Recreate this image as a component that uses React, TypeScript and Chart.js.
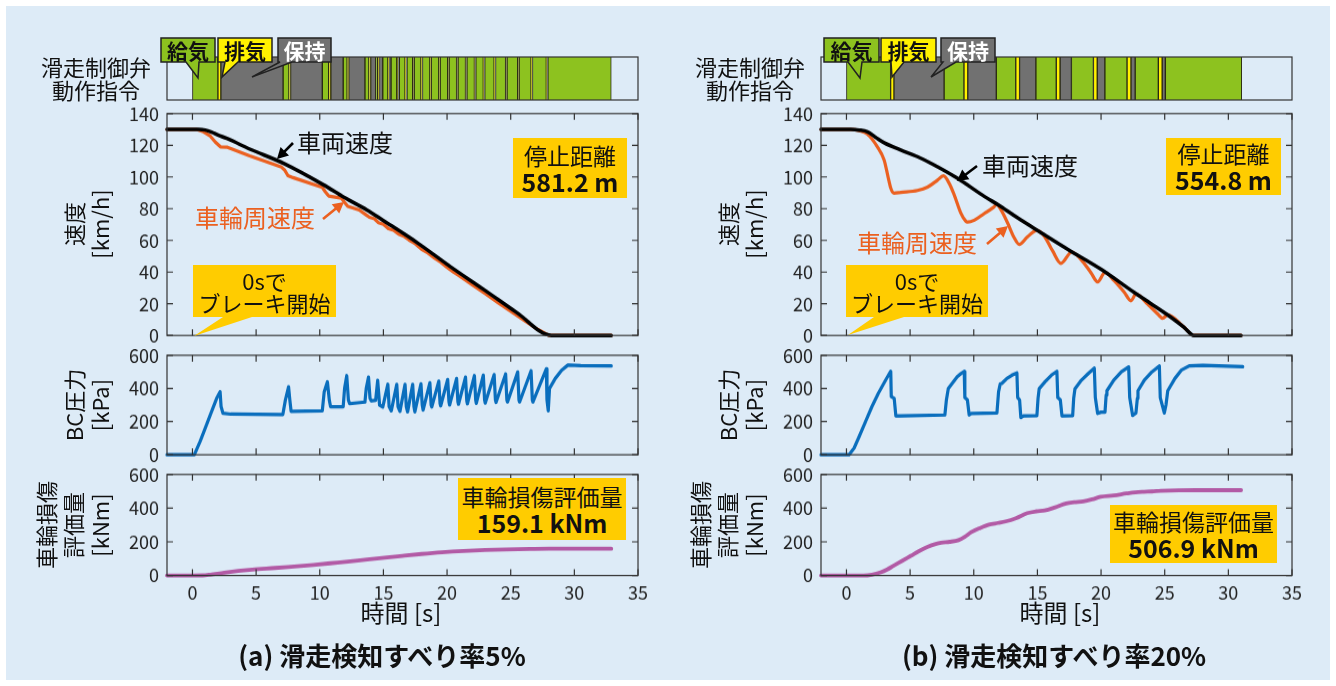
import React, { useEffect, useRef } from 'react';
import { Chart, registerables } from 'chart.js';

Chart.register(...registerables);

const FONT = "'Noto Sans CJK JP', 'Noto Sans', sans-serif";
const BG = '#DDEBF7';
const GREEN = '#8DC21F';
const YELLOW = '#FFF100';
const GRAY = '#717171';
const GOLD = '#FFCC00';
const ORANGE = '#EB6020';
const BLUE = '#0A6EBD';
const PURPLE = '#B25AA5';
const BLACK = '#000000';

// ---------- axes ----------
const X_MIN = -2;
const X_MAX = 35;
const timeTicks = [0, 5, 10, 15, 20, 25, 30, 35];
const speedTicks = [0, 20, 40, 60, 80, 100, 120, 140];
const bcTicks = [0, 200, 400, 600];
const damageTicks = [0, 200, 400, 600];

type Pt = [number, number];
type Seg = [number, number, 'S' | 'E' | 'H'];

// ---------- (a) slip detection 5% ----------
const valveA: Seg[] = [
  [0, 2.0, 'S'], [2.0, 2.23, 'E'], [2.23, 7.12, 'H'],
  [7.12, 7.58, 'S'], [7.58, 7.71, 'E'], [7.71, 10.2, 'H'],
  [10.2, 10.7, 'S'], [10.7, 10.87, 'E'], [10.87, 11.84, 'H'],
  [11.84, 12.15, 'S'], [12.15, 12.28, 'E'], [12.28, 13.55, 'H'],
  [13.55, 13.86, 'S'], [13.86, 14.0, 'E'], [14.0, 14.39, 'H'],
  [14.39, 14.55, 'S'], [14.55, 14.63, 'E'], [14.63, 14.95, 'H'],
  [14.95, 15.35, 'S'], [15.35, 15.41, 'E'], [15.41, 15.6, 'H'],
  [15.6, 16.05, 'S'], [16.05, 16.1, 'E'], [16.1, 16.25, 'H'],
  [16.25, 16.7, 'S'], [16.7, 16.75, 'E'], [16.75, 16.85, 'H'],
  [16.85, 17.3, 'S'], [17.3, 17.35, 'E'], [17.35, 17.42, 'H'],
  [17.42, 17.95, 'S'], [17.95, 18.0, 'E'], [18.0, 18.07, 'H'],
  [18.07, 18.65, 'S'], [18.65, 18.7, 'E'], [18.7, 18.76, 'H'],
  [18.76, 19.35, 'S'], [19.35, 19.4, 'E'], [19.4, 19.46, 'H'],
  [19.46, 20.05, 'S'], [20.05, 20.1, 'E'], [20.1, 20.16, 'H'],
  [20.16, 20.75, 'S'], [20.75, 20.8, 'E'], [20.8, 20.86, 'H'],
  [20.86, 21.45, 'S'], [21.45, 21.5, 'E'], [21.5, 21.56, 'H'],
  [21.56, 22.15, 'S'], [22.15, 22.2, 'E'], [22.2, 22.26, 'H'],
  [22.26, 22.85, 'S'], [22.85, 22.9, 'E'], [22.9, 22.96, 'H'],
  [22.96, 23.7, 'S'], [23.7, 23.75, 'E'], [23.75, 23.81, 'H'],
  [23.81, 24.6, 'S'], [24.6, 24.65, 'E'], [24.65, 24.71, 'H'],
  [24.71, 25.55, 'S'], [25.55, 25.6, 'E'], [25.6, 25.66, 'H'],
  [25.66, 26.6, 'S'], [26.6, 26.65, 'E'], [26.65, 26.71, 'H'],
  [26.71, 27.8, 'S'], [27.8, 27.85, 'E'], [27.85, 27.92, 'H'],
  [27.92, 32.9, 'S'],
];

const vehicleSpeedA: Pt[] = [
  [-2, 130], [0.5, 130], [1.0, 129.6], [1.5, 128.3], [2.0, 126.5], [2.7, 124.3],
  [4.56, 117.4], [7.15, 108.6], [10.3, 95], [11.9, 87.2], [13.7, 79.2], [15.0, 72.5],
  [17.7, 58.3], [20.3, 43.2], [22.9, 28.9], [25.5, 14.3], [28.2, 0], [32.9, 0],
];

const wheelSpeedA: Pt[] = [
  [-2, 130], [0.3, 130], [0.8, 128.8], [1.4, 125.8], [1.8, 122], [2.2, 119], [2.7, 118.8],
  [4.5, 113.3], [7.0, 106.2], [7.25, 104.3], [7.5, 100.8], [7.9, 99.6], [10.2, 93.4],
  [10.45, 90.5], [10.7, 88], [11.7, 86.7], [11.95, 84], [12.2, 81.5], [13.1, 79.2],
  [13.6, 76.3], [13.9, 74.6], [14.3, 73.6], [14.6, 71.2], [15.0, 70.2], [15.4, 67.4],
  [15.8, 66.4], [16.2, 63.9], [16.6, 62.6], [17.0, 60.3], [17.5, 57.9], [18.0, 54.4],
  [18.5, 52], [19.0, 48.9], [19.5, 46.2], [20.0, 42.9], [20.5, 40], [21.0, 37.4],
  [22.0, 31.9], [23.0, 26.4], [24.0, 20.7], [25.0, 15.2], [26.0, 9.8], [27.0, 4.4],
  [28.0, 0], [32.9, 0],
];

const bcPressureA: Pt[] = [
  [-2, 0], [0.15, 0], [0.6, 80], [1.0, 160], [1.5, 260], [1.9, 340], [2.17, 380],
  [2.25, 290], [2.4, 250], [3.0, 245], [7.1, 243], [7.3, 330], [7.55, 410], [7.65, 330],
  [7.75, 262], [10.2, 265], [10.35, 380], [10.6, 440], [10.75, 330], [10.85, 290],
  [11.84, 290], [11.95, 400], [12.12, 477], [12.25, 330], [12.35, 308], [13.55, 318],
  [13.65, 400], [13.83, 468], [13.95, 340], [14.05, 325], [14.39, 328],
  [14.55, 448], [14.7, 300], [14.95, 288], [15.35, 425], [15.45, 290], [15.62, 265],
  [16.05, 425], [16.15, 290], [16.3, 262], [16.7, 425], [16.8, 290], [16.9, 259],
  [17.3, 425], [17.4, 290], [17.47, 259], [17.95, 428], [18.05, 300], [18.12, 270],
  [18.65, 434], [18.75, 300], [18.8, 288], [19.35, 444], [19.45, 310], [19.5, 295],
  [20.05, 454], [20.15, 320], [20.2, 300], [20.75, 460], [20.85, 320], [20.9, 305],
  [21.45, 468], [21.55, 325], [21.6, 308], [22.15, 477], [22.25, 330], [22.3, 310],
  [22.85, 480], [22.95, 330], [23.0, 312], [23.7, 483], [23.8, 330], [23.85, 316],
  [24.6, 487], [24.7, 330], [24.75, 318], [25.55, 499], [25.65, 330], [25.7, 318],
  [26.6, 506], [26.7, 330], [26.75, 318], [27.8, 518], [27.85, 330], [27.95, 265],
  [28.05, 400], [28.5, 460], [29.0, 510], [29.5, 541], [30.5, 538], [32.9, 536],
];

const damageA: Pt[] = [
  [-2, 0], [0, 0], [0.8, 0.5], [1.4, 5], [2.5, 17], [4.7, 35], [6.5, 45], [8.0, 54],
  [9.5, 63], [11.4, 77], [13.0, 89], [14.7, 103], [16.5, 117], [18.0, 128], [19.6, 138],
  [21.3, 146], [23.0, 151.5], [24.7, 155], [26.5, 157.5], [28.0, 159], [32.9, 159.1],
];

// ---------- (b) slip detection 20% ----------
const valveB: Seg[] = [
  [0, 3.47, 'S'], [3.47, 3.73, 'E'], [3.73, 7.67, 'H'],
  [7.67, 9.23, 'S'], [9.23, 9.53, 'E'], [9.53, 11.77, 'H'],
  [11.77, 13.3, 'S'], [13.3, 13.6, 'E'], [13.6, 14.88, 'H'],
  [14.88, 16.48, 'S'], [16.48, 16.78, 'E'], [16.78, 17.67, 'H'],
  [17.67, 19.4, 'S'], [19.4, 19.7, 'E'], [19.7, 20.3, 'H'],
  [20.3, 22.04, 'S'], [22.04, 22.35, 'E'], [22.35, 22.68, 'H'],
  [22.68, 24.5, 'S'], [24.5, 24.8, 'E'], [24.8, 25.05, 'H'],
  [25.05, 31.05, 'S'],
];

const vehicleSpeedB: Pt[] = [
  [-2, 130], [0.34, 130], [1.0, 129.6], [1.65, 128.5], [2.3, 125], [2.96, 121.6],
  [4.27, 117], [5.58, 112.8], [6.89, 107.6], [8.72, 99.2], [10.82, 87.8], [12.1, 81.5],
  [13.44, 74.2], [15.3, 64.8], [17.4, 54.3], [20.0, 41.8], [22.6, 27.2], [23.9, 20.2],
  [25.3, 12.6], [26.5, 5.3], [27.3, 0], [31.0, 0],
];

const wheelSpeedB: Pt[] = [
  [-2, 130], [0.34, 130], [1.0, 129.3], [1.65, 127], [2.43, 119], [2.96, 110.7],
  [3.27, 100], [3.48, 93], [3.74, 89.8], [4.27, 90.3], [5.58, 91.5], [6.37, 93.6],
  [7.15, 98], [7.62, 100.7], [8.07, 96], [8.46, 88.8], [8.98, 77.3], [9.38, 72],
  [9.51, 71.5], [10.04, 72.7], [10.82, 76.9], [11.48, 80.4], [11.82, 82.5], [12.13, 79.4],
  [12.66, 71], [13.18, 61.6], [13.57, 57.5], [14.23, 62.3], [14.96, 66.3], [15.54, 62.7],
  [16.2, 53.3], [16.85, 45.5], [17.69, 52.6], [18.42, 48], [19.2, 39.7], [19.73, 33.8],
  [20.31, 39.7], [21.04, 34.5], [21.83, 27.2], [22.35, 21.9], [22.74, 26.1], [23.66, 19.8],
  [24.45, 13.6], [24.84, 10.9], [25.24, 13], [26.5, 5.3], [27.3, 0], [31.0, 0],
];

const bcPressureB: Pt[] = [
  [-2, 0], [0.2, 0], [0.6, 40], [1.0, 110], [1.5, 200], [2.0, 290], [2.5, 370], [3.0, 440],
  [3.3, 480], [3.48, 503], [3.52, 351], [3.75, 340], [3.88, 234], [4.2, 234], [7.73, 240],
  [7.85, 330], [8.0, 399], [8.3, 430], [8.7, 470], [9.0, 490], [9.25, 503], [9.3, 345],
  [9.5, 331], [9.64, 240], [9.8, 249], [11.82, 252],
  [11.95, 380], [12.08, 428], [12.2, 430], [12.6, 460], [13.0, 480], [13.39, 493],
  [13.45, 345], [13.6, 331], [13.7, 224], [13.9, 234], [14.96, 236],
  [15.05, 340], [15.14, 398], [15.6, 440], [16.1, 480], [16.53, 503], [16.6, 345],
  [16.8, 331], [16.93, 234], [17.77, 236],
  [17.85, 340], [17.95, 398], [18.4, 445], [19.0, 490], [19.47, 522], [19.55, 345],
  [19.73, 249], [20.0, 257], [20.31, 257],
  [20.4, 360], [20.46, 386], [21.0, 450], [21.6, 500], [22.17, 530], [22.25, 345],
  [22.48, 237], [22.74, 252],
  [22.85, 340], [22.9, 386], [23.4, 450], [24.0, 500], [24.58, 536], [24.65, 345],
  [24.97, 252], [25.1, 300], [25.24, 386], [25.8, 460], [26.3, 510], [26.93, 536],
  [28.0, 540], [31.13, 531],
];

const damageB: Pt[] = [
  [-2, 0], [0, 0], [1.33, 0], [2.0, 5], [2.69, 19], [3.2, 36], [3.7, 58], [4.4, 88],
  [5.06, 117], [5.7, 145], [6.4, 171], [7.0, 187], [7.43, 195], [8.1, 200], [8.8, 210],
  [9.3, 230], [9.8, 257], [10.5, 282], [11.2, 302], [11.9, 312], [12.5, 321], [13.3, 340],
  [14.2, 370], [14.9, 381], [15.57, 386], [16.4, 405], [17.26, 428], [17.9, 435],
  [18.6, 440], [19.3, 452], [19.97, 467], [21.0, 475], [22.0, 487], [22.7, 494],
  [23.37, 497], [24.0, 499], [24.7, 503], [26.1, 506.5], [28.0, 506.9], [31.0, 506.9],
];

const valveColors: Record<string, string> = { S: GREEN, E: YELLOW, H: GRAY };

// ---------- chart helpers ----------
function makeFrame(xT: number[], yT: number[]) {
  return {
    id: 'frame',
    afterDatasetsDraw(chart: any) {
      const { ctx, chartArea: a } = chart;
      const xs = chart.scales.x;
      const ys = chart.scales.y;
      ctx.save();
      ctx.strokeStyle = '#333';
      ctx.lineWidth = 1.2;
      ctx.beginPath();
      xT.forEach((v) => {
        const p = xs.getPixelForValue(v);
        ctx.moveTo(p, a.top); ctx.lineTo(p, a.top + 6);
        ctx.moveTo(p, a.bottom); ctx.lineTo(p, a.bottom - 6);
      });
      yT.forEach((v) => {
        const p = ys.getPixelForValue(v);
        ctx.moveTo(a.left, p); ctx.lineTo(a.left + 6, p);
        ctx.moveTo(a.right, p); ctx.lineTo(a.right - 6, p);
      });
      ctx.stroke();
      ctx.strokeRect(a.left, a.top, a.right - a.left, a.bottom - a.top);
      ctx.restore();
    },
  };
}

// Re-size and re-place the canvas so that the chart area lands exactly on the wanted rectangle.
function fitArea(chart: any, canvas: HTMLCanvasElement, x: number, y: number, w: number, h: number) {
  for (let i = 0; i < 3; i++) {
    const a = chart.chartArea;
    const cw = chart.width, ch = chart.height;
    const leftPad = a.left, topPad = a.top;
    const rightPad = cw - a.right, botPad = ch - a.bottom;
    const nw = Math.round(leftPad + w + rightPad);
    const nh = Math.round(topPad + h + botPad);
    canvas.style.left = `${x - leftPad}px`;
    canvas.style.top = `${y - topPad}px`;
    if (nw === cw && nh === ch) break;
    chart.resize(nw, nh);
    canvas.style.width = `${nw}px`;
    canvas.style.height = `${nh}px`;
  }
}

type Series = { data: Pt[]; color: string; width: number; smooth?: boolean };

const PL = 60, PT = 14, PR = 14, PB = 14, XH = 34;

function LineChart(props: { x: number; y: number; w: number; h: number; series: Series[]; yMax: number; yTicks: number[]; showX: boolean }) {
  const ref = useRef<HTMLCanvasElement>(null);
  const { x, y, w, h, series, yMax, yTicks, showX } = props;
  const cw = w + PL + PR;
  const ch = h + PT + (showX ? XH : PB);
  useEffect(() => {
    const canvas = ref.current as HTMLCanvasElement;
    const tickFont = { family: FONT, size: 18 };
    const chart = new Chart(canvas, {
      type: 'line',
      data: {
        datasets: series.map((s) => ({
          data: s.data.map(([px, py]) => ({ x: px, y: py })),
          borderColor: s.color,
          borderWidth: s.width,
          pointRadius: 0,
          fill: false,
          tension: 0,
          cubicInterpolationMode: s.smooth ? 'monotone' : 'default',
          borderJoinStyle: 'round',
          borderCapStyle: 'round',
          clip: 8,
        })) as any,
      },
      options: {
        responsive: false,
        animation: false,
        events: [],
        layout: { padding: { left: 0, top: PT, right: PR, bottom: showX ? 0 : PB } },
        scales: {
          x: {
            type: 'linear', min: X_MIN, max: X_MAX, display: showX,
            afterBuildTicks: (ax: any) => { ax.ticks = timeTicks.map((v) => ({ value: v })); },
            afterFit: (ax: any) => { if (showX) ax.height = XH; },
            grid: { display: false, drawTicks: false }, border: { display: false },
            ticks: { font: tickFont, color: '#222', padding: 6, maxRotation: 0, autoSkip: false },
          },
          y: {
            type: 'linear', min: 0, max: yMax,
            afterBuildTicks: (ax: any) => { ax.ticks = yTicks.map((v) => ({ value: v })); },
            afterFit: (ax: any) => { ax.width = PL; },
            grid: { display: false, drawTicks: false }, border: { display: false },
            ticks: { font: tickFont, color: '#222', padding: 8, autoSkip: false },
          },
        } as any,
        plugins: { legend: { display: false }, tooltip: { enabled: false } },
      },
      plugins: [makeFrame(timeTicks, yTicks)],
    });
    fitArea(chart, canvas, x, y, w, h);
    return () => chart.destroy();
  }, []);
  return (
    <canvas ref={ref} width={cw} height={ch}
      style={{ position: 'absolute', left: x - PL, top: y - PT, width: cw, height: ch }} />
  );
}

function ValveChart(props: { x: number; y: number; w: number; h: number; segs: Seg[] }) {
  const ref = useRef<HTMLCanvasElement>(null);
  const { x, y, w, h, segs } = props;
  const P = 2;
  useEffect(() => {
    const canvas = ref.current as HTMLCanvasElement;
    const chart = new Chart(canvas, {
      type: 'bar',
      data: {
        labels: ['cmd'],
        datasets: segs.map((s) => ({
          data: [[s[0], s[1]]],
          backgroundColor: valveColors[s[2]],
          borderColor: '#2a2a14',
          borderWidth: { left: 1, right: 1, top: 0, bottom: 0 },
          borderSkipped: false,
          grouped: false,
          barPercentage: 1,
          categoryPercentage: 1,
        })) as any,
      },
      options: {
        indexAxis: 'y',
        responsive: false,
        animation: false,
        events: [],
        layout: { padding: P },
        scales: {
          x: { type: 'linear', min: X_MIN, max: X_MAX, display: false },
          y: { type: 'category', display: false },
        } as any,
        plugins: { legend: { display: false }, tooltip: { enabled: false } },
      },
      plugins: [makeFrame([], [])],
    });
    fitArea(chart, canvas, x, y, w, h);
    return () => chart.destroy();
  }, []);
  return (
    <canvas ref={ref} width={w + 2 * P} height={h + 2 * P}
      style={{ position: 'absolute', left: x - P, top: y - P, width: w + 2 * P, height: h + 2 * P }} />
  );
}

// ---------- text helpers ----------
function Txt(p: { x: number; y: number; s?: number; b?: boolean; c?: string; lh?: number; rot?: boolean; children: React.ReactNode }) {
  return (
    <div style={{
      position: 'absolute', left: p.x, top: p.y,
      transform: `translate(-50%,-50%)${p.rot ? ' rotate(-90deg)' : ''}`,
      fontFamily: FONT, fontSize: p.s ?? 22, fontWeight: p.b ? 700 : 400, color: p.c ?? '#111',
      lineHeight: `${p.lh ?? 28}px`, textAlign: 'center', whiteSpace: 'pre',
    }}>{p.children}</div>
  );
}

function Box(p: { x: number; y: number; w: number; h: number; l1: string; l2: string }) {
  return (
    <div style={{
      position: 'absolute', left: p.x, top: p.y, width: p.w, height: p.h, background: GOLD,
      display: 'flex', flexDirection: 'column', alignItems: 'center', justifyContent: 'center',
      fontFamily: FONT, color: '#111',
    }}>
      <div style={{ fontSize: 23, lineHeight: '26px' }}>{p.l1}</div>
      <div style={{ fontSize: 25, lineHeight: '27px', fontWeight: 700 }}>{p.l2}</div>
    </div>
  );
}

function Tag(p: { x: number; y: number; w: number; c: string; t: string }) {
  return (
    <div style={{
      position: 'absolute', left: p.x, top: p.y, width: p.w, height: 24, lineHeight: '24px',
      textAlign: 'center', fontFamily: FONT, fontSize: 21, fontWeight: 700, color: p.c,
    }}>{p.t}</div>
  );
}

function arrowHead(x1: number, y1: number, x2: number, y2: number, len = 11, half = 6) {
  const dx = x2 - x1, dy = y2 - y1;
  const d = Math.hypot(dx, dy);
  const ux = dx / d, uy = dy / d;
  const bx = x2 - ux * len, by = y2 - uy * len;
  return `${x2},${y2} ${bx - uy * half},${by + ux * half} ${bx + uy * half},${by - ux * half}`;
}

function Arrow(p: { x1: number; y1: number; x2: number; y2: number; c: string }) {
  const dx = p.x2 - p.x1, dy = p.y2 - p.y1;
  const d = Math.hypot(dx, dy);
  const ex = p.x2 - (dx / d) * 8, ey = p.y2 - (dy / d) * 8;
  return (
    <g>
      <line x1={p.x1} y1={p.y1} x2={ex} y2={ey} stroke={p.c} strokeWidth={2.6} />
      <polygon points={arrowHead(p.x1, p.y1, p.x2, p.y2)} fill={p.c} />
    </g>
  );
}

function bubble(x: number, y: number, w: number, h: number, tail: Pt[]) {
  const [a, b, c] = tail;
  return `M${x},${y} H${x + w} V${y + h} H${b[0]} L${c[0]},${c[1]} L${a[0]},${a[1]} H${x} Z`;
}

type PanelCfg = {
  ox: number;
  valve: Seg[];
  vehicle: Pt[]; wheel: Pt[]; bc: Pt[]; damage: Pt[];
  wheelSmooth: boolean;
  tags: { box: [number, number, number]; tail: Pt[]; bg: string; c: string; t: string }[];
  carText: [number, number]; carArrow: [number, number, number, number];
  wheelText: [number, number]; wheelArrow: [number, number, number, number];
  stopBox: [number, number, number, number]; stopVal: string;
  startBox: [number, number, number, number]; startTail: Pt[];
  dmgBox: [number, number, number, number]; dmgVal: string;
  xTitle: number; caption: [number, string];
};

const W = 471;
const ROW_VALVE = { y: 57, h: 43 };
const ROW_SPEED = { y: 113, h: 223 };
const ROW_BC = { y: 354, h: 102 };
const ROW_DMG = { y: 474, h: 102 };

const panels: PanelCfg[] = [
  {
    ox: 167, valve: valveA, vehicle: vehicleSpeedA, wheel: wheelSpeedA, bc: bcPressureA, damage: damageA,
    wheelSmooth: false,
    tags: [
      { box: [161, 38, 54], tail: [[186, 62], [199, 62], [198, 78]], bg: GREEN, c: '#111', t: '給気' },
      { box: [218, 38, 54], tail: [[225, 62], [238, 62], [222, 77]], bg: YELLOW, c: '#111', t: '排気' },
      { box: [278, 38, 53], tail: [[280, 62], [292, 62], [252, 77]], bg: GRAY, c: '#fff', t: '保持' },
    ],
    carText: [345, 142], carArrow: [293, 143, 277, 159],
    wheelText: [255, 217], wheelArrow: [323, 219, 344, 202],
    stopBox: [513, 138, 114, 60], stopVal: '581.2 m',
    startBox: [193, 265, 143, 52], startTail: [[223, 317], [252, 317], [194, 336]],
    dmgBox: [458, 478, 168, 62], dmgVal: '159.1 kNm',
    xTitle: 401, caption: [382, '(a) 滑走検知すべり率5%'],
  },
  {
    ox: 821, valve: valveB, vehicle: vehicleSpeedB, wheel: wheelSpeedB, bc: bcPressureB, damage: damageB,
    wheelSmooth: true,
    tags: [
      { box: [824, 38, 55], tail: [[848, 62], [862, 62], [860, 78]], bg: GREEN, c: '#111', t: '給気' },
      { box: [881, 38, 55], tail: [[891, 62], [904, 62], [892, 77]], bg: YELLOW, c: '#111', t: '排気' },
      { box: [941, 38, 54], tail: [[943, 62], [956, 62], [931, 77]], bg: GRAY, c: '#fff', t: '保持' },
    ],
    carText: [1030, 165], carArrow: [977, 166, 957, 181],
    wheelText: [917, 242], wheelArrow: [987, 244, 1008, 226],
    stopBox: [1166, 138, 115, 57], stopVal: '554.8 m',
    startBox: [846, 265, 142, 52], startTail: [[874, 317], [904, 317], [848, 335]],
    dmgBox: [1110, 505, 167, 58], dmgVal: '506.9 kNm',
    xTitle: 1060, caption: [1054, '(b) 滑走検知すべり率20%'],
  },
];

function Panel({ p }: { p: PanelCfg }) {
  const lx = p.ox - 167;
  return (
    <>
      <ValveChart x={p.ox} y={ROW_VALVE.y} w={W} h={ROW_VALVE.h} segs={p.valve} />
      <LineChart x={p.ox} y={ROW_SPEED.y} w={W} h={ROW_SPEED.h} yMax={140} yTicks={speedTicks} showX={false}
        series={[
          { data: p.vehicle, color: BLACK, width: 3.5, smooth: true },
          { data: p.wheel, color: ORANGE, width: 3.2, smooth: p.wheelSmooth },
        ]} />
      <LineChart x={p.ox} y={ROW_BC.y} w={W} h={ROW_BC.h} yMax={600} yTicks={bcTicks} showX={false}
        series={[{ data: p.bc, color: BLUE, width: 3.2 }]} />
      <LineChart x={p.ox} y={ROW_DMG.y} w={W} h={ROW_DMG.h} yMax={600} yTicks={damageTicks} showX={true}
        series={[{ data: p.damage, color: PURPLE, width: 3.8, smooth: true }]} />

      <svg width={1336} height={686} style={{ position: 'absolute', left: 0, top: 0, pointerEvents: 'none' }}>
        {p.tags.map((t, i) => (
          <path key={i} d={bubble(t.box[0], t.box[1], t.box[2], 24, t.tail)} fill={t.bg} stroke="#222" strokeWidth={1.5} strokeLinejoin="miter" />
        ))}
        <path d={bubble(p.startBox[0], p.startBox[1], p.startBox[2], p.startBox[3], p.startTail)} fill={GOLD} />
        <Arrow x1={p.carArrow[0]} y1={p.carArrow[1]} x2={p.carArrow[2]} y2={p.carArrow[3]} c={BLACK} />
        <Arrow x1={p.wheelArrow[0]} y1={p.wheelArrow[1]} x2={p.wheelArrow[2]} y2={p.wheelArrow[3]} c={ORANGE} />
      </svg>

      {p.tags.map((t, i) => (
        <Tag key={i} x={t.box[0]} y={t.box[1]} w={t.box[2]} c={t.c} t={t.t} />
      ))}

      <Txt x={96 + lx} y={78} s={22} lh={23}>{'滑走制御弁\n動作指令'}</Txt>
      <Txt x={86 + lx} y={224} s={22} lh={26} rot>{'速度\n[km/h]'}</Txt>
      <Txt x={86 + lx} y={405} s={22} lh={26} rot>{'BC圧力\n[kPa]'}</Txt>
      <Txt x={72 + lx} y={525} s={22} lh={27} rot>{'車輪損傷\n評価量\n[kNm]'}</Txt>

      <Txt x={p.carText[0]} y={p.carText[1]} s={24}>{'車両速度'}</Txt>
      <Txt x={p.wheelText[0]} y={p.wheelText[1]} s={24} c={ORANGE}>{'車輪周速度'}</Txt>

      <Box x={p.stopBox[0]} y={p.stopBox[1]} w={p.stopBox[2]} h={p.stopBox[3]} l1="停止距離" l2={p.stopVal} />
      <div style={{
        position: 'absolute', left: p.startBox[0], top: p.startBox[1], width: p.startBox[2], height: p.startBox[3],
        display: 'flex', alignItems: 'center', justifyContent: 'center', textAlign: 'center',
        fontFamily: FONT, fontSize: 22, lineHeight: '22px', color: '#111', whiteSpace: 'pre',
      }}>{'0sで\nブレーキ開始'}</div>
      <Box x={p.dmgBox[0]} y={p.dmgBox[1]} w={p.dmgBox[2]} h={p.dmgBox[3]} l1="車輪損傷評価量" l2={p.dmgVal} />

      <Txt x={p.xTitle} y={612} s={24}>{'時間 [s]'}</Txt>
      <Txt x={p.caption[0]} y={655} s={26} b>{p.caption[1]}</Txt>
    </>
  );
}

export default function App() {
  useEffect(() => {
    document.body.style.overflow = 'hidden';
  }, []);
  return (
    <div style={{ position: 'absolute', left: 0, top: 0, width: 1336, height: 686, background: '#ffffff', overflow: 'hidden' }}>
      <div style={{ position: 'absolute', left: 6, top: 6, width: 1324, height: 674, background: BG }} />
      {panels.map((p, i) => <Panel key={i} p={p} />)}
    </div>
  );
}
